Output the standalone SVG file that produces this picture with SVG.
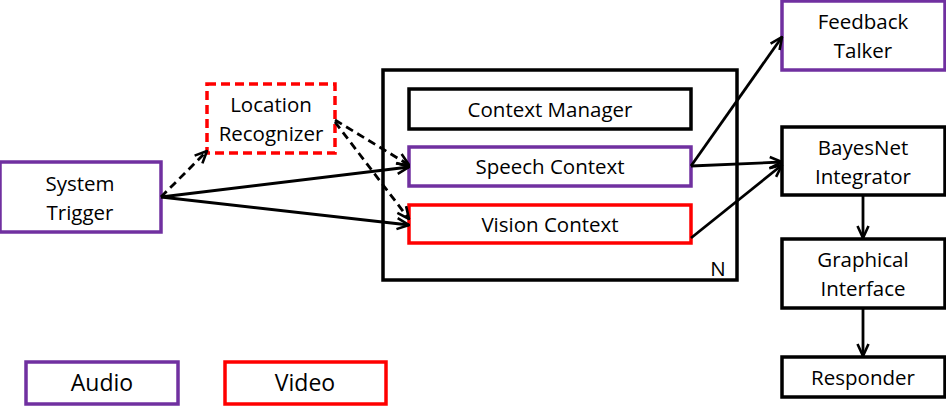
<svg xmlns="http://www.w3.org/2000/svg" width="946" height="407" viewBox="0 0 946 407">
<defs>
<style>
.box{fill:#fff;stroke-width:3.5}
.k{stroke:#000}
.p{stroke:#7030a0}
.r{stroke:#ff0000}
.d{stroke-dasharray:9 5}
text{font-family:"Open Sans","Liberation Sans",sans-serif;font-size:20.5px;fill:#000;text-anchor:middle}
.lg{font-size:23px}
.c{fill:none;stroke:#000;stroke-width:2.8}
.cd{stroke-dasharray:8 5}
</style>
<marker id="ah" viewBox="0 0 14 14" refX="13" refY="7" markerWidth="14" markerHeight="14" markerUnits="userSpaceOnUse" orient="auto">
<polyline points="1,1.5 13,7 1,12.5" fill="none" stroke="#000" stroke-width="2.6"/>
</marker>
</defs>
<rect width="946" height="407" fill="#fff"/>
<g id="outer">
<rect class="box k" x="383" y="70" width="354" height="210"/>
<text x="718" y="276">N</text>
</g>
<g id="system-trigger">
<rect class="box p" x="0" y="162" width="161" height="70"/>
<text x="80" y="191">System</text>
<text x="80" y="220">Trigger</text>
</g>
<g id="location-recognizer">
<rect class="box r d" x="207" y="84" width="128" height="69"/>
<text x="271" y="112">Location</text>
<text x="271" y="141">Recognizer</text>
</g>
<g id="context-manager">
<rect class="box k" x="409" y="89" width="282" height="40"/>
<text x="550" y="117">Context Manager</text>
</g>
<g id="speech-context">
<rect class="box p" x="409" y="147" width="282" height="39"/>
<text x="550" y="174">Speech Context</text>
</g>
<g id="vision-context">
<rect class="box r" x="409" y="205" width="282" height="38"/>
<text x="550" y="232">Vision Context</text>
</g>
<g id="feedback-talker">
<rect class="box p" x="782" y="1" width="163" height="69"/>
<text x="863" y="29">Feedback</text>
<text x="863" y="58">Talker</text>
</g>
<g id="bayesnet-integrator">
<rect class="box k" x="782" y="127" width="163" height="68"/>
<text x="863" y="155">BayesNet</text>
<text x="863" y="184">Integrator</text>
</g>
<g id="graphical-interface">
<rect class="box k" x="782" y="239" width="163" height="69"/>
<text x="863" y="267">Graphical</text>
<text x="863" y="296">Interface</text>
</g>
<g id="responder">
<rect class="box k" x="782" y="357" width="163" height="40"/>
<text x="863" y="385">Responder</text>
</g>
<g id="legend-audio">
<rect class="box p" x="26" y="362" width="152" height="42"/>
<text class="lg" x="102" y="391">Audio</text>
</g>
<g id="legend-video">
<rect class="box r" x="225" y="362" width="161" height="42"/>
<text class="lg" x="305" y="391">Video</text>
</g>
<g id="connectors">
<line class="c cd" x1="161" y1="197" x2="207" y2="151" marker-end="url(#ah)"/>
<line class="c" x1="161" y1="197" x2="409" y2="167" marker-end="url(#ah)"/>
<line class="c" x1="161" y1="197" x2="409" y2="225" marker-end="url(#ah)"/>
<line class="c cd" x1="335" y1="120" x2="409" y2="165" marker-end="url(#ah)"/>
<line class="c cd" x1="335" y1="122" x2="409" y2="219" marker-end="url(#ah)"/>
<line class="c" x1="691" y1="166" x2="782" y2="37" marker-end="url(#ah)"/>
<line class="c" x1="691" y1="166" x2="782" y2="162" marker-end="url(#ah)"/>
<line class="c" x1="691" y1="238" x2="782" y2="165" marker-end="url(#ah)"/>
<line class="c" x1="863" y1="195" x2="863" y2="238" marker-end="url(#ah)"/>
<line class="c" x1="863" y1="308" x2="863" y2="356" marker-end="url(#ah)"/>
</g>
</svg>
